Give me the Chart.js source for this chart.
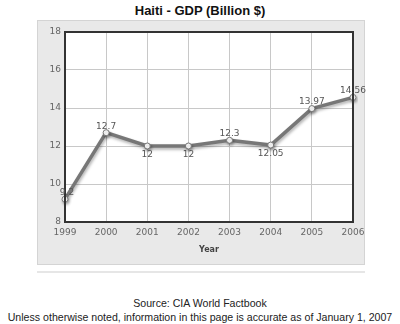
<!DOCTYPE html>
<html>
<head>
<meta charset="utf-8">
<script src="https://cdn.jsdelivr.net/npm/chart.js@4/dist/chart.umd.min.js"></script>
<style>
  body { margin: 0; width: 400px; height: 324px; background: #fff; position: relative; font-family: "Liberation Sans", Arial, sans-serif; }
  #title { position: absolute; top: 3px; left: 0; width: 400px; text-align: center; font-weight: bold; font-size: 13px; color: #111; }
  #panel { position: absolute; left: 37px; top: 20px; width: 328px; height: 245px; background: #e9e9e9; border: 1px solid #d4d4d4; box-sizing: border-box; }
  #panel canvas { display: block; }
  #sep { position: absolute; left: 37px; top: 271px; width: 328px; height: 2px; background: #e6e6e6; }
  #source { position: absolute; top: 296px; left: 0; width: 400px; text-align: center; font-size: 10.6px; color: #222; line-height: 14px; white-space: nowrap; }
</style>
</head>
<body>
<div id="title">Haiti - GDP (Billion $)</div>
<div id="panel"><canvas id="gdpChart" width="336" height="243"></canvas></div>
<div id="sep"></div>
<div id="source">Source: CIA World Factbook<br>Unless otherwise noted, information in this page is accurate as of January 1, 2007</div>
<script>
// Haiti GDP, billion $
const years = ['1999', '2000', '2001', '2002', '2003', '2004', '2005', '2006'];
const gdp = [9.2, 12.7, 12, 12, 12.3, 12.05, 13.97, 14.56];
const valueLabels = ['9.2', '12.7', '12', '12', '12.3', '12.05', '13.97', '14.56'];
const labelBelow = [false, false, true, true, false, true, false, false];

// white plot background + dark frame
const plotFrame = {
  id: 'plotFrame',
  beforeDraw(chart) {
    const { ctx, chartArea: a } = chart;
    ctx.save();
    ctx.fillStyle = '#fff';
    ctx.fillRect(a.left, a.top, a.right - a.left, a.bottom - a.top);
    ctx.restore();
  },
  afterDatasetsDraw(chart) {
    const { ctx, chartArea: a } = chart;
    ctx.save();
    ctx.strokeStyle = '#333';
    ctx.lineWidth = 2;
    ctx.strokeRect(a.left, a.top, a.right - a.left, a.bottom - a.top);
    ctx.restore();
  }
};

// soft shadow under the line
const lineShadow = {
  id: 'lineShadow',
  beforeDatasetDraw(chart) {
    const ctx = chart.ctx;
    ctx.save();
    ctx.shadowColor = 'rgba(0,0,0,0.3)';
    ctx.shadowBlur = 3;
    ctx.shadowOffsetX = 1;
    ctx.shadowOffsetY = 2;
  },
  afterDatasetDraw(chart) {
    chart.ctx.restore();
  }
};

// value labels next to the points
const valueTags = {
  id: 'valueTags',
  afterDraw(chart) {
    const ctx = chart.ctx;
    const pts = chart.getDatasetMeta(0).data;
    ctx.save();
    ctx.font = '9px "DejaVu Sans", Verdana, sans-serif';
    ctx.fillStyle = '#555';
    ctx.textAlign = 'center';
    pts.forEach((p, i) => {
      if (labelBelow[i]) {
        ctx.textBaseline = 'top';
        ctx.fillText(valueLabels[i], p.x, p.y + 4);
      } else {
        ctx.textBaseline = 'bottom';
        ctx.fillText(valueLabels[i], p.x + (i === 0 ? 2 : 0), p.y - 2);
      }
    });
    ctx.restore();
  }
};

const tickFont = { family: '"DejaVu Sans", Verdana, sans-serif', size: 9 };

new Chart(document.getElementById('gdpChart'), {
  type: 'line',
  data: {
    labels: years,
    datasets: [{
      data: gdp,
      borderColor: '#777',
      borderWidth: 3.5,
      tension: 0,
      pointRadius: 3,
      pointBackgroundColor: '#fff',
      pointBorderColor: '#777',
      pointBorderWidth: 1
    }]
  },
  options: {
    responsive: false,
    animation: false,
    devicePixelRatio: 1,
    layout: { padding: { left: 0, top: 11, right: 0, bottom: 0 } },
    plugins: { legend: { display: false }, tooltip: { enabled: false } },
    scales: {
      x: {
        offset: false,
        grid: { color: '#c8c8c8', offset: false, drawTicks: false },
        border: { display: false },
        ticks: { color: '#666', font: tickFont, padding: 5, maxRotation: 0, autoSkip: false },
        title: { display: true, text: 'Year', color: '#444', font: { family: '"DejaVu Sans", Verdana, sans-serif', size: 8, weight: 'bold' }, padding: { top: 2, bottom: 9 } },
        afterFit(scale) {
          scale.height = 42;
          scale.paddingRight = 21;
        }
      },
      y: {
        min: 8,
        max: 18,
        ticks: { stepSize: 2, color: '#666', font: tickFont, padding: 4 },
        grid: { color: '#c8c8c8', drawTicks: false },
        border: { display: false },
        afterFit(scale) { scale.width = 27; }
      }
    }
  },
  plugins: [plotFrame, lineShadow, valueTags]
});
</script>
</body>
</html>
